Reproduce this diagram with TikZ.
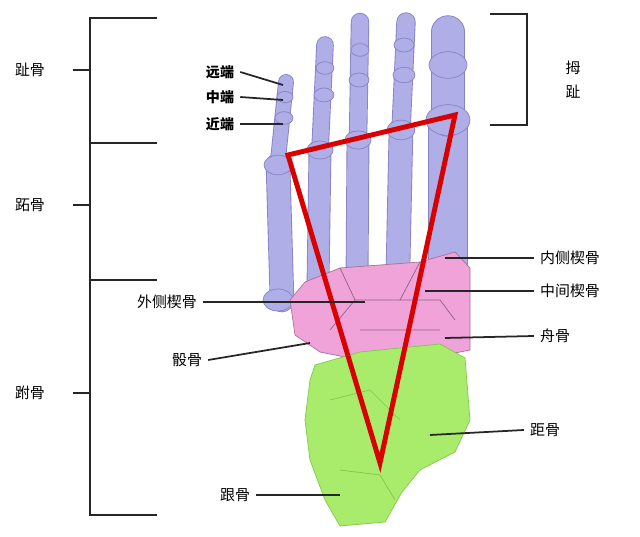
\documentclass[tikz,border=0pt]{standalone}
\usepackage{fontspec}
\newfontfamily\cjk{Noto Sans CJK SC}
\begin{document}
\begin{tikzpicture}[x=0.02cm,y=-0.02cm,
  lbl/.style={font=\cjk\fontsize{8.5}{10}\selectfont},
  blbl/.style={font=\cjk\bfseries\fontsize{8}{10}\selectfont},
  brk/.style={line width=1.4pt,black!85},
  ptr/.style={line width=1pt,black!85},
  bone/.style={line cap=round,color=lav},
  boneo/.style={line cap=round,color=lavd}]
\definecolor{lav}{HTML}{AFAEE6}
\definecolor{lavd}{HTML}{8583C4}
\definecolor{pnk}{HTML}{EFA3D8}
\definecolor{grn}{HTML}{A9EC6C}
\definecolor{grnd}{HTML}{82C84A}
\useasboundingbox (0,0) rectangle (640,537);
% metatarsals (wide)
\foreach \a/\b/\c/\d/\w in {282/300/278/165/13, 318/285/320/150/12, 357/280/358/140/12, 398/268/401/130/13, 448/262/448/122/22}{
  \draw[boneo,line width=\w pt+1pt] (\a,\b) -- (\c,\d);
  \draw[bone,line width=\w pt] (\a,\b) -- (\c,\d);
}
% phalanges (narrow)
\foreach \a/\b/\c/\d/\w in {278/160/286/82/8, 320/150/325/45/9, 358/140/360/22/9.5, 401/130/406/22/10, 448/120/448/32/18}{
  \draw[boneo,line width=\w pt+1pt] (\a,\b) -- (\c,\d);
  \draw[bone,line width=\w pt] (\a,\b) -- (\c,\d);
}
% joints
\foreach \x/\y/\r in {278/165/14,284/118/9,285/97/8,320/150/13,324/95/10,325/68/9,358/140/13,359/80/10,360/50/9,401/130/14,404/75/11,404/45/10,448/120/22,448/65/19}
  \fill[lav,draw=lavd,line width=0.4pt] (\x,\y) ellipse ({\r*0.02cm} and {\r*0.014cm});
\fill[lav,draw=lavd,line width=0.4pt] (278,300) ellipse (0.3cm and 0.22cm);
% tarsals pink
\fill[pnk,draw=pnk!70!black,line width=0.4pt] (290,300)--(305,282)--(340,268)--(420,262)--(455,252)--(470,268)--(470,350)--(440,356)--(360,360)--(320,352)--(295,335)--cycle;
\draw[pnk!60!black,line width=0.4pt] (340,268)--(355,300)--(330,330) (355,300)--(400,300)--(420,262) (400,300)--(440,300)--(455,320) (360,330)--(440,330);
% green
\fill[grn,draw=grnd,line width=0.4pt] (315,365)--(360,352)--(440,344)--(465,358)--(470,420)--(455,452)--(420,470)--(402,492)--(385,522)--(340,526)--(325,500)--(310,460)--(305,420)--(310,380)--cycle;
\draw[grnd,line width=0.4pt] (330,400)--(370,390)--(400,420) (340,470)--(380,475)--(395,500);
% triangle
\draw[red!85!black,line width=2.8pt,line join=miter] (288,155)--(455,115)--(380,463)--cycle;
% left bracket
\draw[brk] (157,18)--(90,18)--(90,515)--(157,515) (90,143)--(157,143) (90,280)--(157,280)
  (73,70)--(90,70) (73,205)--(90,205) (73,393)--(90,393);
\node[lbl] (t1) at (30,70) {趾骨};
\node[lbl] (t2) at (30,205) {跖骨};
\node[lbl] (t3) at (30,393) {跗骨};
% right bracket
\draw[brk] (490,14)--(527,14)--(527,125)--(490,125);
\node[lbl] (m1) at (573,68) {拇};
\node[lbl] (m2) at (573,92) {趾};
% small labels
\node[blbl] (y) at (220,72) {远端};
\node[blbl] (z) at (220,97) {中端};
\node[blbl] (j) at (220,124) {近端};
\draw[ptr] (y.east)--(283,85); \draw[ptr] (z.east)--(283,100); \draw[ptr] (j.east)--(283,124);
\node[lbl] (a) at (570,258) {内侧楔骨};
\node[lbl] (b) at (570,291) {中间楔骨};
\node[lbl] (c) at (555,336) {舟骨};
\node[lbl] (d) at (545,430) {距骨};
\node[lbl] (e) at (167,302) {外侧楔骨};
\node[lbl] (f) at (187,360) {骰骨};
\node[lbl] (g) at (235,495) {跟骨};
\draw[ptr] (445,258)--(a.west); \draw[ptr] (425,291)--(b.west); \draw[ptr] (445,338)--(c.west);
\draw[ptr] (430,435)--(d.west); \draw[ptr] (e.east)--(365,302); \draw[ptr] (f.east)--(310,343);
\draw[ptr] (g.east)--(340,495);
\end{tikzpicture}
\end{document}
